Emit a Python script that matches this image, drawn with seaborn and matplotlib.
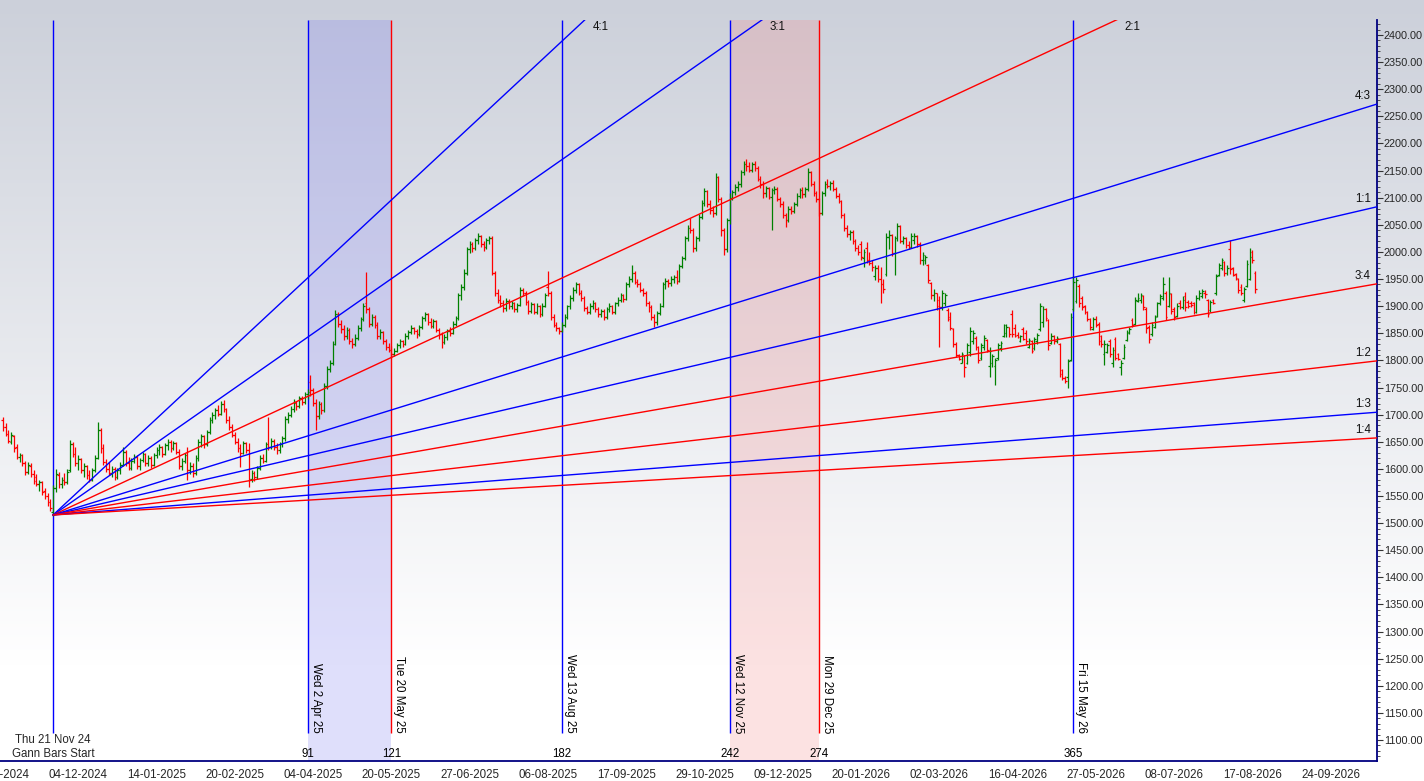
import matplotlib
matplotlib.use("Agg")
import matplotlib.pyplot as plt
import matplotlib.transforms as mtransforms
from matplotlib.ticker import FixedLocator, MultipleLocator, FuncFormatter
import numpy as np
import seaborn as sns

# Daily OHLC, one row of ten bars per line, first bar is 18 bars before the Gann start
FIRST_BAR = -18
opens = [
    1690, 1678, 1665, 1650, 1660, 1640, 1622, 1625, 1610, 1594,
    1606, 1590, 1585, 1572, 1575, 1560, 1550, 1538, 1520, 1565,
    1588, 1572, 1580, 1575, 1598, 1645, 1628, 1610, 1618, 1598,
    1605, 1588, 1580, 1598, 1620, 1672, 1638, 1612, 1600, 1592,
    1600, 1585, 1598, 1608, 1632, 1610, 1602, 1615, 1622, 1605,
    1616, 1628, 1610, 1620, 1608, 1626, 1635, 1640, 1628, 1644,
    1650, 1638, 1648, 1632, 1605, 1615, 1625, 1598, 1605, 1592,
    1620, 1650, 1660, 1645, 1668, 1690, 1700, 1708, 1702, 1720,
    1710, 1690, 1678, 1662, 1650, 1638, 1630, 1648, 1635, 1582,
    1592, 1585, 1602, 1620, 1615, 1646, 1640, 1652, 1640, 1634,
    1646, 1656, 1692, 1700, 1710, 1722, 1716, 1730, 1724, 1738,
    1760, 1745, 1722, 1698, 1720, 1708, 1752, 1785, 1795, 1830,
    1885, 1868, 1858, 1845, 1856, 1835, 1830, 1842, 1860, 1876,
    1905, 1895, 1868, 1880, 1865, 1845, 1852, 1835, 1825, 1820,
    1812, 1818, 1828, 1836, 1830, 1845, 1852, 1860, 1854, 1848,
    1862, 1878, 1885, 1870, 1864, 1872, 1856, 1848, 1834, 1844,
    1854, 1850, 1868, 1878, 1920, 1935, 1962, 2005, 2014, 2008,
    2022, 2030, 2015, 2010, 2022, 2026, 1962, 1925, 1912, 1905,
    1896, 1910, 1900, 1906, 1894, 1902, 1930, 1924, 1908, 1892,
    1904, 1890, 1900, 1886, 1900, 1935, 1925, 1880, 1866, 1860,
    1855, 1866, 1880, 1900, 1915, 1930, 1940, 1925, 1915, 1896,
    1890, 1900, 1906, 1895, 1885, 1892, 1880, 1895, 1900, 1890,
    1905, 1912, 1920, 1914, 1940, 1950, 1962, 1945, 1940, 1930,
    1925, 1905, 1898, 1880, 1870, 1888, 1900, 1940, 1946, 1942,
    1950, 1954, 1946, 1974, 1988, 2025, 2045, 2040, 2008, 2025,
    2065, 2090, 2112, 2088, 2078, 2072, 2138, 2098, 2040, 2005,
    2058, 2100, 2110, 2120, 2125, 2148, 2162, 2158, 2152, 2162,
    2155, 2135, 2125, 2108, 2118, 2102, 2114, 2116, 2098, 2088,
    2068, 2058, 2080, 2075, 2088, 2104, 2114, 2106, 2116, 2148,
    2126, 2108, 2098, 2072, 2108, 2126, 2122, 2128, 2116, 2104,
    2094, 2068, 2045, 2034, 2036, 2020, 2008, 2015, 1988, 2008,
    1985, 1980, 1955, 1970, 1950, 1940, 1960, 2028, 2032, 1998,
    2025, 2048, 2020, 2026, 2012, 2010, 2022, 2030, 2015, 1985,
    1986, 1975, 1942, 1920, 1925, 1912, 1898, 1905, 1893, 1880,
    1858, 1830, 1810, 1796, 1808, 1795, 1815, 1835, 1842, 1824,
    1805, 1825, 1838, 1790, 1795, 1790, 1805, 1822, 1845, 1850,
    1862, 1885, 1860, 1846, 1835, 1858, 1850, 1825, 1835, 1822,
    1835, 1858, 1870, 1895, 1875, 1832, 1845, 1835, 1830, 1782,
    1768, 1770, 1800, 1895, 1910, 1938, 1915, 1900, 1890, 1876,
    1858, 1876, 1868, 1845, 1812, 1815, 1835, 1795, 1840, 1812,
    1788, 1805, 1838, 1850, 1875, 1868, 1910, 1912, 1918, 1895,
    1862, 1848, 1862, 1882, 1905, 1915, 1925, 1900, 1922, 1895,
    1882, 1905, 1898, 1918, 1908, 1905, 1905, 1890, 1915, 1918,
    1925, 1912, 1893, 1912, 1924, 1958, 1970, 1982, 1962, 2005,
    1970, 1960, 1950, 1935, 1912, 1938, 1950, 2000, 1962,
]
highs = [
    1695, 1685, 1672, 1668, 1662, 1645, 1630, 1628, 1615, 1612,
    1610, 1598, 1590, 1580, 1578, 1565, 1555, 1545, 1570, 1600,
    1595, 1585, 1592, 1600, 1653, 1650, 1640, 1625, 1620, 1610,
    1608, 1598, 1602, 1625, 1686, 1676, 1645, 1618, 1612, 1605,
    1604, 1602, 1612, 1640, 1635, 1622, 1620, 1628, 1625, 1620,
    1632, 1630, 1625, 1624, 1630, 1640, 1645, 1643, 1648, 1655,
    1653, 1652, 1650, 1636, 1620, 1630, 1640, 1612, 1610, 1625,
    1655, 1665, 1663, 1672, 1695, 1705, 1712, 1718, 1725, 1727,
    1712, 1698, 1682, 1668, 1656, 1645, 1652, 1650, 1648, 1598,
    1596, 1605, 1625, 1628, 1650, 1696, 1656, 1655, 1648, 1650,
    1660, 1698, 1705, 1715, 1728, 1726, 1735, 1734, 1742, 1748,
    1773, 1750, 1728, 1725, 1724, 1758, 1790, 1800, 1835, 1893,
    1890, 1875, 1865, 1862, 1860, 1842, 1848, 1865, 1880, 1905,
    1963, 1898, 1885, 1884, 1870, 1858, 1855, 1840, 1832, 1826,
    1822, 1832, 1840, 1838, 1850, 1856, 1865, 1862, 1858, 1866,
    1882, 1890, 1888, 1878, 1876, 1875, 1860, 1852, 1848, 1858,
    1862, 1872, 1882, 1925, 1940, 1968, 2010, 2020, 2018, 2026,
    2035, 2032, 2020, 2026, 2030, 2030, 1965, 1932, 1920, 1912,
    1915, 1914, 1910, 1908, 1905, 1935, 1934, 1928, 1912, 1908,
    1906, 1905, 1902, 1905, 1925, 1965, 1928, 1885, 1870, 1862,
    1870, 1885, 1903, 1920, 1935, 1945, 1942, 1930, 1918, 1900,
    1905, 1912, 1908, 1898, 1895, 1894, 1898, 1905, 1902, 1908,
    1916, 1925, 1922, 1945, 1955, 1976, 1965, 1950, 1944, 1934,
    1928, 1910, 1902, 1885, 1892, 1905, 1945, 1952, 1950, 1955,
    1958, 1966, 1978, 1992, 2030, 2050, 2062, 2044, 2030, 2070,
    2095, 2118, 2115, 2095, 2085, 2145, 2140, 2102, 2045, 2062,
    2108, 2115, 2125, 2130, 2152, 2168, 2172, 2165, 2166, 2168,
    2158, 2140, 2130, 2122, 2120, 2118, 2122, 2120, 2102, 2094,
    2072, 2085, 2084, 2092, 2108, 2118, 2120, 2120, 2155, 2150,
    2130, 2112, 2100, 2112, 2130, 2134, 2130, 2132, 2120, 2108,
    2096, 2072, 2050, 2040, 2040, 2024, 2012, 2020, 2005, 2018,
    2000, 1985, 1975, 1975, 1972, 1950, 2035, 2040, 2034, 2030,
    2053, 2050, 2030, 2028, 2020, 2035, 2035, 2032, 2018, 2000,
    1994, 1978, 1945, 1932, 1925, 1918, 1930, 1925, 1896, 1890,
    1860, 1834, 1812, 1815, 1810, 1832, 1862, 1856, 1845, 1826,
    1832, 1847, 1840, 1825, 1812, 1805, 1832, 1835, 1868, 1868,
    1862, 1893, 1868, 1852, 1847, 1862, 1856, 1841, 1838, 1844,
    1850, 1906, 1900, 1897, 1877, 1850, 1846, 1845, 1832, 1785,
    1772, 1802, 1888, 1955, 1954, 1940, 1918, 1902, 1892, 1878,
    1880, 1882, 1870, 1846, 1838, 1832, 1840, 1825, 1844, 1813,
    1800, 1830, 1856, 1862, 1878, 1917, 1924, 1925, 1920, 1899,
    1865, 1871, 1884, 1908, 1922, 1954, 1928, 1954, 1925, 1898,
    1905, 1912, 1918, 1926, 1912, 1910, 1908, 1920, 1930, 1932,
    1930, 1914, 1912, 1914, 1960, 1980, 1989, 1984, 1975, 2022,
    1973, 1962, 1952, 1940, 1936, 1985, 2007, 2003, 1965,
]
lows = [
    1670, 1660, 1648, 1645, 1632, 1618, 1612, 1605, 1588, 1590,
    1585, 1572, 1568, 1560, 1552, 1545, 1532, 1522, 1513, 1558,
    1565, 1565, 1570, 1572, 1595, 1622, 1605, 1598, 1592, 1585,
    1582, 1575, 1578, 1595, 1618, 1630, 1608, 1595, 1588, 1585,
    1580, 1582, 1590, 1605, 1605, 1598, 1598, 1610, 1600, 1598,
    1612, 1605, 1605, 1602, 1605, 1620, 1625, 1622, 1625, 1635,
    1632, 1635, 1628, 1600, 1598, 1610, 1580, 1590, 1585, 1588,
    1615, 1640, 1638, 1642, 1665, 1685, 1692, 1698, 1700, 1705,
    1685, 1672, 1658, 1645, 1632, 1603, 1628, 1630, 1567, 1575,
    1578, 1582, 1598, 1610, 1612, 1635, 1636, 1635, 1628, 1630,
    1640, 1652, 1685, 1695, 1705, 1708, 1712, 1718, 1720, 1728,
    1735, 1715, 1672, 1692, 1702, 1705, 1748, 1778, 1792, 1828,
    1862, 1850, 1838, 1840, 1830, 1822, 1826, 1838, 1855, 1872,
    1888, 1862, 1864, 1860, 1840, 1840, 1830, 1820, 1815, 1805,
    1808, 1815, 1822, 1825, 1828, 1840, 1848, 1848, 1842, 1845,
    1858, 1872, 1865, 1860, 1860, 1852, 1840, 1823, 1830, 1838,
    1845, 1848, 1864, 1875, 1912, 1930, 1958, 1998, 2000, 2004,
    2015, 2010, 2002, 2006, 2015, 1958, 1918, 1905, 1898, 1890,
    1892, 1895, 1895, 1890, 1890, 1900, 1918, 1902, 1885, 1888,
    1885, 1886, 1880, 1882, 1898, 1918, 1875, 1862, 1855, 1848,
    1852, 1862, 1876, 1895, 1910, 1925, 1920, 1910, 1892, 1885,
    1886, 1895, 1890, 1880, 1880, 1875, 1876, 1890, 1885, 1886,
    1900, 1908, 1908, 1912, 1935, 1945, 1940, 1935, 1926, 1918,
    1900, 1890, 1875, 1862, 1865, 1884, 1898, 1932, 1935, 1938,
    1942, 1940, 1944, 1970, 1985, 2020, 2035, 2000, 2002, 2020,
    2060, 2085, 2082, 2070, 2065, 2068, 2092, 2030, 1994, 2000,
    2052, 2095, 2105, 2112, 2120, 2142, 2150, 2148, 2148, 2150,
    2130, 2118, 2100, 2102, 2098, 2040, 2106, 2094, 2082, 2062,
    2046, 2055, 2070, 2072, 2084, 2100, 2100, 2102, 2112, 2122,
    2104, 2092, 2066, 2068, 2104, 2118, 2115, 2112, 2100, 2090,
    2062, 2038, 2028, 2022, 2015, 2002, 1995, 1985, 1972, 1980,
    1975, 1965, 1948, 1945, 1906, 1925, 1955, 2005, 1992, 1957,
    2020, 2016, 2014, 2008, 2005, 2008, 2015, 2010, 1978, 1976,
    1978, 1942, 1914, 1910, 1893, 1825, 1893, 1900, 1872, 1856,
    1825, 1806, 1800, 1795, 1770, 1793, 1808, 1830, 1820, 1795,
    1800, 1820, 1815, 1770, 1788, 1755, 1800, 1818, 1843, 1843,
    1843, 1843, 1843, 1842, 1834, 1838, 1831, 1822, 1813, 1820,
    1831, 1855, 1862, 1872, 1820, 1830, 1831, 1832, 1770, 1764,
    1758, 1750, 1798, 1892, 1905, 1899, 1893, 1885, 1872, 1856,
    1856, 1862, 1828, 1825, 1791, 1813, 1806, 1788, 1800, 1800,
    1773, 1802, 1836, 1848, 1862, 1865, 1908, 1905, 1893, 1850,
    1832, 1845, 1860, 1880, 1902, 1912, 1875, 1898, 1886, 1874,
    1880, 1895, 1895, 1892, 1897, 1898, 1886, 1888, 1912, 1915,
    1915, 1880, 1890, 1904, 1920, 1955, 1966, 1955, 1958, 1960,
    1955, 1948, 1924, 1920, 1908, 1935, 1948, 1980, 1925,
]
closes = [
    1678, 1665, 1652, 1662, 1638, 1622, 1625, 1610, 1595, 1608,
    1590, 1578, 1572, 1575, 1558, 1550, 1538, 1528, 1565, 1590,
    1572, 1580, 1575, 1595, 1645, 1628, 1610, 1618, 1598, 1605,
    1588, 1580, 1598, 1620, 1672, 1638, 1612, 1600, 1592, 1600,
    1585, 1598, 1608, 1632, 1610, 1602, 1615, 1622, 1605, 1616,
    1628, 1610, 1620, 1608, 1626, 1635, 1640, 1628, 1644, 1650,
    1638, 1648, 1632, 1605, 1615, 1625, 1598, 1605, 1592, 1620,
    1650, 1660, 1645, 1668, 1690, 1700, 1708, 1702, 1720, 1710,
    1690, 1678, 1662, 1650, 1638, 1630, 1648, 1635, 1582, 1592,
    1585, 1602, 1620, 1615, 1646, 1640, 1652, 1640, 1634, 1646,
    1656, 1692, 1700, 1710, 1722, 1716, 1730, 1724, 1738, 1742,
    1745, 1722, 1698, 1720, 1708, 1752, 1785, 1795, 1830, 1885,
    1868, 1858, 1845, 1856, 1835, 1830, 1842, 1860, 1876, 1900,
    1895, 1868, 1880, 1865, 1845, 1852, 1835, 1825, 1820, 1812,
    1818, 1828, 1836, 1830, 1845, 1852, 1860, 1854, 1848, 1862,
    1878, 1885, 1870, 1864, 1872, 1856, 1848, 1834, 1844, 1854,
    1850, 1868, 1878, 1920, 1935, 1962, 2005, 2014, 2008, 2022,
    2030, 2015, 2010, 2022, 2026, 1962, 1925, 1912, 1905, 1896,
    1910, 1900, 1906, 1894, 1902, 1930, 1924, 1908, 1892, 1904,
    1890, 1900, 1886, 1900, 1920, 1925, 1880, 1866, 1860, 1855,
    1866, 1880, 1900, 1915, 1930, 1940, 1925, 1915, 1896, 1890,
    1900, 1906, 1895, 1885, 1892, 1880, 1895, 1900, 1890, 1905,
    1912, 1920, 1914, 1940, 1950, 1962, 1945, 1940, 1930, 1925,
    1905, 1898, 1880, 1870, 1888, 1900, 1940, 1946, 1942, 1950,
    1954, 1946, 1974, 1988, 2025, 2045, 2040, 2008, 2025, 2065,
    2090, 2112, 2088, 2078, 2072, 2138, 2098, 2040, 2005, 2058,
    2100, 2110, 2120, 2125, 2148, 2162, 2158, 2152, 2162, 2155,
    2135, 2125, 2108, 2118, 2102, 2114, 2116, 2098, 2088, 2068,
    2058, 2080, 2075, 2088, 2104, 2114, 2106, 2116, 2148, 2126,
    2108, 2098, 2072, 2108, 2126, 2122, 2128, 2116, 2104, 2094,
    2068, 2045, 2034, 2036, 2020, 2008, 2000, 1990, 2000, 1985,
    1980, 1972, 1970, 1950, 1940, 1932, 2028, 2032, 1998, 2025,
    2048, 2020, 2026, 2012, 2010, 2030, 2030, 2015, 1985, 1995,
    1990, 1948, 1920, 1925, 1900, 1898, 1925, 1920, 1876, 1860,
    1830, 1810, 1803, 1812, 1788, 1828, 1855, 1850, 1824, 1800,
    1828, 1842, 1820, 1818, 1808, 1800, 1828, 1832, 1865, 1862,
    1848, 1848, 1845, 1844, 1845, 1840, 1835, 1838, 1818, 1840,
    1846, 1900, 1895, 1878, 1828, 1845, 1835, 1842, 1775, 1768,
    1762, 1798, 1880, 1945, 1948, 1905, 1898, 1890, 1876, 1862,
    1876, 1866, 1835, 1830, 1830, 1828, 1812, 1820, 1805, 1802,
    1796, 1825, 1852, 1858, 1865, 1912, 1915, 1920, 1898, 1860,
    1840, 1865, 1880, 1905, 1918, 1940, 1880, 1925, 1892, 1880,
    1900, 1898, 1912, 1898, 1900, 1902, 1890, 1915, 1925, 1928,
    1922, 1885, 1908, 1906, 1955, 1975, 1985, 1962, 1970, 1968,
    1958, 1952, 1930, 1925, 1932, 1978, 1990, 1985, 1932,
]

# Gann fan from the start bar
FAN_ORIGIN_BAR = 0
FAN_ORIGIN_PRICE = 1515
PRICE_PER_BAR = 1.2
fan_names = ["4:1", "3:1", "2:1", "4:3", "1:1", "3:4", "1:2", "1:3", "1:4"]
fan_ratios = [4, 3, 2, 4 / 3, 1, 3 / 4, 1 / 2, 1 / 3, 1 / 4]
fan_colors = ["#0000ff", "#0000ff", "#ff0000", "#0000ff", "#0000ff",
              "#ff0000", "#ff0000", "#0000ff", "#ff0000"]

# Gann bar counts from the start
cycle_bars = [91, 121, 182, 242, 274, 365]
cycle_dates = ["Wed 2 Apr 25", "Tue 20 May 25", "Wed 13 Aug 25",
               "Wed 12 Nov 25", "Mon 29 Dec 25", "Fri 15 May 26"]
cycle_colors = ["#0000ff", "#ff0000", "#0000ff", "#0000ff", "#ff0000", "#0000ff"]
start_label = "Thu 21 Nov 24"
shade_spans = [(91, 121), (242, 274)]
shade_colors = [(0.50, 0.50, 0.95), (0.96, 0.55, 0.55)]

tick_bars = [-19, 9, 37, 65, 93, 121, 149, 177, 205, 233, 261, 289, 317, 345, 373, 401, 429, 457]
tick_labels = ["25-10-2024", "04-12-2024", "14-01-2025", "20-02-2025", "04-04-2025",
               "20-05-2025", "27-06-2025", "06-08-2025", "17-09-2025", "29-10-2025",
               "09-12-2025", "20-01-2026", "02-03-2026", "16-04-2026", "27-05-2026",
               "08-07-2026", "17-08-2026", "24-09-2026"]

NAVY = "#000080"
FS = 8.3


def main() -> None:
    sns.set_style("white")
    plt.rcParams["font.family"] = ["Liberation Sans", "DejaVu Sans"]

    n = len(closes)
    assert len(opens) == len(highs) == len(lows) == n
    bars = np.arange(FIRST_BAR, FIRST_BAR + n)
    o, h, l, c = (np.array(v, dtype=float) for v in (opens, highs, lows, closes))

    fig = plt.figure(figsize=(14.24, 7.81), dpi=100)

    # soft grey-to-white background
    bg = fig.add_axes([0, 0, 1, 1], zorder=0)
    t = np.clip(np.linspace(0, 1, 400) / 0.85, 0, 1)[:, None]
    top = np.array([0.80, 0.816, 0.855])
    img = top + (1 - top) * t[..., None]
    bg.imshow(img.reshape(400, 1, 3), aspect="auto", extent=(0, 1, 0, 1))
    bg.set_axis_off()

    ax = fig.add_axes([0, 20 / 781, 1377 / 1424, 741 / 781], zorder=1)
    ax.set_facecolor("none")
    x_min, x_max = -18.21, 473.57
    y_min, y_max = 1061.3, 2427.7
    ax.set_xlim(x_min, x_max)
    ax.set_ylim(y_min, y_max)

    def px(dx, dy):
        return mtransforms.offset_copy(ax.transData, fig=fig, x=dx, y=dy, units="dots")

    # shaded cycle windows
    for (a, b), col in zip(shade_spans, shade_colors):
        ax.axvspan(a, b, color=col, alpha=0.25, lw=0, zorder=1)

    # vertical bar-count lines
    line_bottom = 1113
    ax.vlines([FAN_ORIGIN_BAR], line_bottom, y_max, colors="#0000ff", lw=1, zorder=2)
    for b, col, lab in zip(cycle_bars, cycle_colors, cycle_dates):
        ax.vlines([b], line_bottom, y_max, colors=col, lw=1, zorder=2)
        ax.text(b, line_bottom, lab, rotation=270, ha="left", va="bottom",
                fontsize=FS, color="black", transform=px(2, 0))
        ax.text(b, 1074, str(b), ha="center", va="center", fontsize=FS, color="black")
    ax.text(FAN_ORIGIN_BAR, 1100, start_label, ha="center", va="center", fontsize=FS)
    ax.text(FAN_ORIGIN_BAR, 1074, "Gann Bars Start", ha="center", va="center", fontsize=FS)

    # OHLC bars
    up = c >= o
    cols = np.where(up, "#008000", "#ff0000")
    ax.vlines(bars, l, h, colors=cols, lw=0.9, zorder=3)
    ax.hlines(o, bars - 0.6, bars, colors=cols, lw=0.9, zorder=3)
    ax.hlines(c, bars, bars + 0.6, colors=cols, lw=0.9, zorder=3)

    # Gann fan lines
    for name, r, col in zip(fan_names, fan_ratios, fan_colors):
        slope = r * PRICE_PER_BAR
        xs = np.array([FAN_ORIGIN_BAR, x_max])
        ys = FAN_ORIGIN_PRICE + slope * (xs - FAN_ORIGIN_BAR)
        sns.lineplot(x=xs, y=ys, ax=ax, color=col, lw=1, zorder=4)
        x_top = FAN_ORIGIN_BAR + (y_max - FAN_ORIGIN_PRICE) / slope
        if x_top < x_max:
            ax.text(x_top, y_max, name, ha="left", va="center", fontsize=FS,
                    color="#111111", transform=px(8, -7))
        else:
            ax.text(x_max, ys[-1], name, ha="right", va="center", fontsize=FS,
                    color="#111111", transform=px(-6, 8))

    # axes styling
    for side in ("left", "top"):
        ax.spines[side].set_visible(False)
    for side in ("right", "bottom"):
        ax.spines[side].set_color(NAVY)
        ax.spines[side].set_linewidth(1.3)

    ax.yaxis.tick_right()
    ax.yaxis.set_major_locator(FixedLocator(np.arange(1100, 2401, 50)))
    ax.yaxis.set_minor_locator(MultipleLocator(10))
    ax.yaxis.set_major_formatter(FuncFormatter(lambda v, _: f"{v:.2f}"))
    ax.tick_params(axis="y", which="major", direction="out", length=4, width=0.8,
                   color="#333333", labelsize=7.8, pad=1, right=True, left=False)
    ax.tick_params(axis="y", which="minor", direction="out", length=2, width=0.6,
                   color="#333333", right=True, left=False)

    ax.set_xticks(tick_bars, tick_labels)
    ax.xaxis.set_minor_locator(FixedLocator(np.arange(-19, 474, 7)))
    ax.tick_params(axis="x", which="major", direction="out", length=4, width=0.8,
                   color="#333333", labelsize=FS, pad=2)
    ax.tick_params(axis="x", which="minor", direction="out", length=2, width=0.6,
                   color="#333333")
    ax.grid(False)
    ax.set_xlabel("")
    ax.set_ylabel("")

    fig.savefig("out.png", dpi=100)
    plt.close(fig)


if __name__ == "__main__":
    main()
